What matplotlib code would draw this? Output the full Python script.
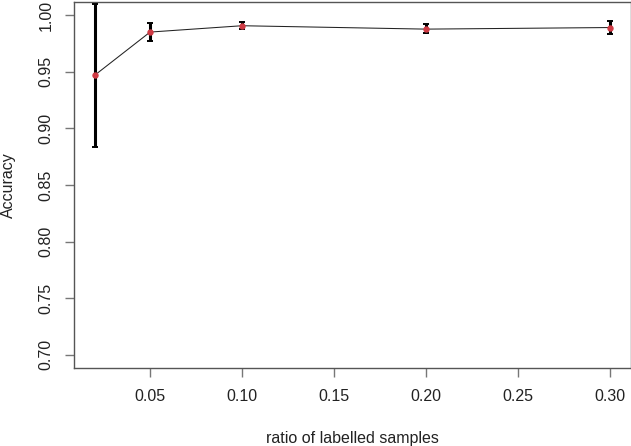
import matplotlib
matplotlib.use("Agg")
import matplotlib.pyplot as plt
import numpy as np

# Data
ratios = [0.02, 0.05, 0.10, 0.20, 0.30]
accuracy = [0.947, 0.985, 0.9906, 0.9876, 0.989]
acc_lower = [0.8838, 0.9768, 0.9876, 0.9838, 0.9835]
acc_upper = [1.0097, 0.9932, 0.9935, 0.9918, 0.9947]
xticks = [0.05, 0.10, 0.15, 0.20, 0.25, 0.30]
yticks = [0.70, 0.75, 0.80, 0.85, 0.90, 0.95, 1.00]

plt.rcParams['font.family'] = ['Liberation Sans', 'DejaVu Sans']
FS = 11.5

W, H = 631, 446
fig = plt.figure(figsize=(W / 100, H / 100), dpi=100)
left, right, top, bottom = 74.3, 630.5, 1.5, 368.3
ax = fig.add_axes([left / W, 1 - bottom / H, (right - left) / W, (bottom - top) / H])

mean = np.array(accuracy)
yerr = [mean - np.array(acc_lower), np.array(acc_upper) - mean]

ax.plot(ratios, accuracy, color='#222222', lw=0.75, zorder=2)
ax.errorbar(ratios, accuracy, yerr=yerr, fmt='none', ecolor='black',
            elinewidth=2.2, capsize=2.5, capthick=1.4, zorder=3)
ax.plot(ratios, accuracy, 'o', color='#d03a44', ms=3.6, mec='#d03a44', zorder=4)

ax.set_xlim(0.0088, 0.3112)
ax.set_ylim(0.688, 1.012)
ax.set_xticks(xticks)
ax.set_xticklabels([f"{t:.2f}" for t in xticks])
ax.set_yticks(yticks)
ax.set_yticklabels([f"{t:.2f}" for t in yticks], rotation=90, va='center')

for s in ax.spines.values():
    s.set_color('#555555')
    s.set_linewidth(1.0)

ax.tick_params(axis='both', direction='out', length=6.5, width=1.0, color='#777777',
               labelsize=FS, labelcolor='#222222', pad=8.5)

fig.text(8 / W, 1 - 185 / H, 'Accuracy', rotation=90, ha='center', va='center',
         fontsize=FS, color='#222222')
fig.text((left + right) / 2 / W, 1 - 438 / H, 'ratio of labelled samples',
         ha='center', va='center', fontsize=FS, color='#222222')

fig.savefig('out.png', dpi=100)
